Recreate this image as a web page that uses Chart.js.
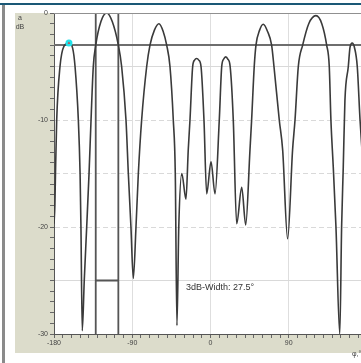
<!DOCTYPE html>
<html lang="en">
<head>
<meta charset="UTF-8" />
<title>Directivity pattern</title>
<script src="https://cdn.jsdelivr.net/npm/chart.js"></script>
<style>
  html, body { margin: 0; padding: 0; background: #fff; overflow: hidden; }
  #wrap { width: 361px; height: 363px; overflow: hidden; position: relative; }
  #pattern { position: absolute; left: 0; top: 0; }
</style>
</head>
<body>
<div id="wrap"><canvas id="pattern" width="390" height="363"></canvas></div>
<script>
// pattern: angle in degrees, level in dB
const patternAngles = [-180, -179, -178.3, -176.9, -173.1, -168.5, -162.8, -158.5, -155.8, -152, -150, -149, -147.5,
    -145.2, -142.4, -139.7, -137.4, -134.8, -132, -126, -119.4, -113, -106, -102.2, -97.2, -94.5, -91.5, -88.8,
    -85.7, -83, -79.2, -73.4, -69.6, -64.5, -59.3, -54.5, -50.4, -46.6, -42.8, -40.5, -38.6,
    -36.5, -33, -28.2, -25.6, -23.6, -20.5, -18.3, -15.9, -13.5, -10.9, -7.5, -4.4, 0.6, 5.2,
    10.1, 12.9, 15.2, 17.5, 19.9, 22.6, 26.2, 30.1, 35.9, 40.5, 45.4, 47.3, 50.3, 52.3, 56.5, 60.7, 65.5,
    70.3, 73, 79.1, 83, 88.7, 94.4, 97.2, 101, 106, 113, 121.3, 128, 133.6, 136.6, 138.5, 141.2, 144.3, 148.7,
    150.8, 152.7, 154.6, 158.5, 160.5, 163, 165.5, 168.8, 172, 176, 180];
const patternDb = [-19.7, -18, -15, -10, -5, -3.1, -2.8, -3.3, -5, -10, -15, -20, -29.7,
    -25, -20, -15, -10, -5, -3, -0.8, 0, -0.8, -3, -5, -10, -15, -20, -24.8,
    -20, -15, -10, -5, -3, -1.6, -1, -1.7, -3, -5, -10, -15, -29.2,
    -20, -15, -17.4, -12.8, -10, -5, -4.4, -4.25, -4.4, -5, -10, -16.9, -13.9, -16.9,
    -10, -5, -4.3, -4.1, -4.3, -5, -10, -19.7, -16.3, -19.8, -12.8, -10, -5, -3, -1.6, -1.05, -1.7,
    -3, -5, -10, -12.8, -21.1, -12.8, -10, -5, -3, -1, -0.25, -1, -3, -5, -10, -14.4, -20, -30,
    -20, -14.4, -8.2, -5, -3.2, -2.8, -3.2, -5, -10, -15, -19.7];

// marked main lobe peak
const peakAngle = -162.8;
const peakDb = -2.8;

// 3 dB level and beam width bracket
const threeDbLevel = -3;
const widthLeft = -132;
const widthRight = -106;
const bracketDb = -25;
const widthText = '3dB-Width: 27.5°';
const widthTextAngle = -28.2;
const widthTextDb = -25.7;

const xMin = -180, xMax = 180, yMin = -30, yMax = 0;

const curve = patternAngles.map((a, i) => ({ x: a, y: patternDb[i] }));

const bracket = [
    { x: widthLeft, y: yMax }, { x: widthLeft, y: yMin }, { x: widthLeft, y: null },
    { x: widthRight, y: yMax }, { x: widthRight, y: yMin }, { x: widthRight, y: null },
    { x: widthLeft, y: bracketDb }, { x: widthRight, y: bracketDb }
];

const framePlugin = {
    id: 'frame',
    beforeDraw(chart) {
        const c = chart.ctx, a = chart.chartArea;
        c.save();
        c.fillStyle = '#ffffff';
        c.fillRect(0, 0, chart.width, chart.height);
        // beige panel behind axes
        c.fillStyle = '#dcdccb';
        c.fillRect(15, a.top, chart.width - 15, 353 - a.top);
        c.fillStyle = '#ffffff';
        c.fillRect(a.left, a.top, a.right - a.left, a.bottom - a.top);
        // window frame
        c.fillStyle = '#1a5876';
        c.fillRect(0, 3, chart.width, 2);
        c.fillStyle = '#8a8a8a';
        c.fillRect(2, 5, 3, chart.height);
        c.restore();
    },
    afterDraw(chart) {
        const c = chart.ctx, a = chart.chartArea;
        const xs = chart.scales.x, ys = chart.scales.y;
        c.save();
        c.strokeStyle = '#909090';
        c.lineWidth = 1;
        c.beginPath();
        c.moveTo(a.left, a.top + 0.5);
        c.lineTo(a.right, a.top + 0.5);
        c.stroke();

        c.fillStyle = '#444';
        c.font = '7px "Liberation Sans", Arial, sans-serif';
        c.textAlign = 'center';
        c.textBaseline = 'middle';
        c.fillText('a', 20, 18);
        c.fillText('dB', 20, 27);
        c.textAlign = 'left';
        c.fillText('φ,°', 352, 354);

        c.fillStyle = '#333';
        c.font = '9px "Liberation Sans", Arial, sans-serif';
        c.textAlign = 'left';
        c.fillText(widthText, xs.getPixelForValue(widthTextAngle), ys.getPixelForValue(widthTextDb));
        c.restore();
    }
};

new Chart(document.getElementById('pattern'), {
    type: 'scatter',
    data: {
        datasets: [
            {
                data: [{ x: peakAngle, y: peakDb }],
                pointStyle: 'triangle',
                pointRadius: 1.5,
                backgroundColor: '#e03535',
                borderWidth: 0,
                order: 0
            },
            {
                data: [{ x: peakAngle, y: peakDb }],
                pointRadius: 3.5,
                backgroundColor: '#22e2ea',
                borderWidth: 0,
                order: 1
            },
            {
                data: curve,
                showLine: true,
                borderColor: '#3a3a3a',
                borderWidth: 1.6,
                pointRadius: 0,
                cubicInterpolationMode: 'monotone',
                order: 2
            },
            {
                data: [{ x: xMin, y: threeDbLevel }, { x: xMax, y: threeDbLevel }],
                showLine: true,
                borderColor: '#6e6e6e',
                borderWidth: 2,
                pointRadius: 0,
                order: 3
            },
            {
                data: bracket,
                showLine: true,
                spanGaps: false,
                borderColor: '#555',
                borderWidth: 1.8,
                pointRadius: 0,
                order: 3
            }
        ]
    },
    options: {
        responsive: false,
        animation: false,
        devicePixelRatio: 1,
        layout: { padding: { left: 15, top: 13, right: 23, bottom: 10 } },
        plugins: { legend: { display: false }, tooltip: { enabled: false } },
        scales: {
            x: {
                type: 'linear',
                min: xMin,
                max: xMax,
                afterFit: s => { s.height = 19; },
                ticks: {
                    stepSize: 10,
                    autoSkip: false,
                    maxRotation: 0,
                    padding: 1,
                    color: '#444',
                    font: { size: 7, family: '"Liberation Sans", Arial, sans-serif' },
                    callback: v => (v % 90 === 0 ? String(v) : '')
                },
                grid: {
                    color: ctx => (ctx.tick && ctx.tick.value % 90 === 0 && Math.abs(ctx.tick.value) !== 180 ? '#dedede' : 'rgba(0,0,0,0)'),
                    tickColor: '#666',
                    tickLength: 4
                },
                border: { color: '#555', width: 1 }
            },
            y: {
                min: yMin,
                max: yMax,
                afterFit: s => { s.width = 39; },
                ticks: {
                    stepSize: 1,
                    autoSkip: false,
                    padding: 2,
                    color: '#444',
                    font: { size: 7, family: '"Liberation Sans", Arial, sans-serif' },
                    callback: v => (v % 10 === 0 ? String(v) : '')
                },
                grid: {
                    color: ctx => (ctx.tick && ctx.tick.value % 5 === 0 && ctx.tick.value !== 0 && ctx.tick.value !== -30 ? '#d9d9d9' : 'rgba(0,0,0,0)'),
                    tickColor: '#666',
                    tickLength: 4
                },
                border: {
                    color: '#555',
                    width: 1,
                    dash: ctx => (ctx.tick && [-10, -15, -20].includes(ctx.tick.value) ? [5, 3] : [])
                }
            }
        }
    },
    plugins: [framePlugin]
});
</script>
</body>
</html>
